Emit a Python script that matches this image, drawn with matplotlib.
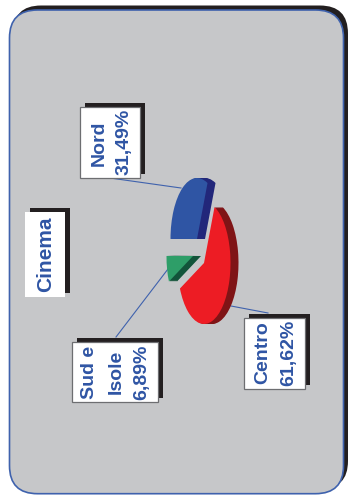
import matplotlib
matplotlib.use("Agg")
import matplotlib.pyplot as plt
from matplotlib.patches import FancyBboxPatch, Rectangle
from matplotlib.transforms import Affine2D

categories = ["Nord", "Sud e\nIsole", "Centro"]
values = [31.49, 6.89, 61.62]
value_labels = ["31,49%", "6,89%", "61,62%"]
title = "Cinema"
face_colors = ["#2f55a4", "#2e9e68", "#ed1c24"]
side_colors = ["#22277a", "#12543a", "#7f1416"]

TXT = "#2f55a4"
H = 495
plt.rcParams["font.family"] = ["Liberation Sans", "DejaVu Sans"]
fig = plt.figure(figsize=(3.5, 4.95), dpi=100, facecolor="white")
ax = fig.add_axes([0, 0, 1, 1])


def Y(y):
    return H - y


def rounded(x0, y0, x1, y1, r, **kw):
    ax.add_patch(FancyBboxPatch((x0 + r, Y(y1) + r), x1 - x0 - 2 * r, y1 - y0 - 2 * r,
                                boxstyle=f"round,pad={r},rounding_size={r}", **kw))


rounded(13, 5.5, 348, 489, 28, fc="#231f20", ec="none", zorder=1)
rounded(9.5, 10, 343.5, 493.7, 28, fc="#c6c7c9", ec="#3f62ad", lw=1.2, zorder=2)

# leader lines
for (a, b), (c, d) in [((110, 178), (181, 188)), ((116, 337), (168, 269)), ((231, 306), (268, 313))]:
    ax.plot([a, c], [Y(b), Y(d)], color="#3f62ad", lw=0.8, zorder=3)

# exploded, squashed pie with extruded side: each slice is placed on its own centre
rx, ry, depth = 26.5, 61, 8
centres = [(197, 239), (193, 256), (204, 263)]
for off in list(range(depth, 0, -1)) + [0]:
    cols = face_colors if off == 0 else side_colors
    wedges, _ = ax.pie(values, colors=cols, startangle=66.6,
                       counterclock=True, frame=True, radius=1)
    for w, (cx, cy) in zip(wedges, centres):
        w.set_transform(Affine2D().scale(rx, ry).translate(cx + off, Y(cy)) + ax.transData)
        w.set_zorder(4 + (depth - off) * 0.01)
        w.set_edgecolor("none")


def box(x0, y0, x1, y1, border=True):
    ax.add_patch(Rectangle((x0 + 5, Y(y1) + 4.5), x1 - x0, y1 - y0, fc="#231f20", ec="none", zorder=6))
    ax.add_patch(Rectangle((x0, Y(y1)), x1 - x0, y1 - y0, fc="white",
                           ec="#6d6e71" if border else "none", lw=0.9, zorder=7))


def label(x, y, s, size=14):
    ax.text(x + 2, Y(y), s, rotation=90, ha="center", va="center", color=TXT,
            fontsize=size, fontweight="bold", zorder=8)


box(25, 212, 65, 297, border=False)
label(44, 254, title, 15)

box(79.5, 107, 140, 178)
label(97, 143, categories[0])
label(122, 142, value_labels[0])

box(72, 342, 158, 402)
sud, isole = categories[1].split("\n")
label(88, 372, sud)
label(114, 372, isole)
label(140, 372, value_labels[1])

box(244, 318, 305, 389)
label(261, 353, categories[2])
label(287, 353, value_labels[2])

ax.set_xlim(0, 350)
ax.set_ylim(0, H)
ax.set_aspect("auto")
ax.axis("off")
fig.savefig("out.png", dpi=100, facecolor="white")
